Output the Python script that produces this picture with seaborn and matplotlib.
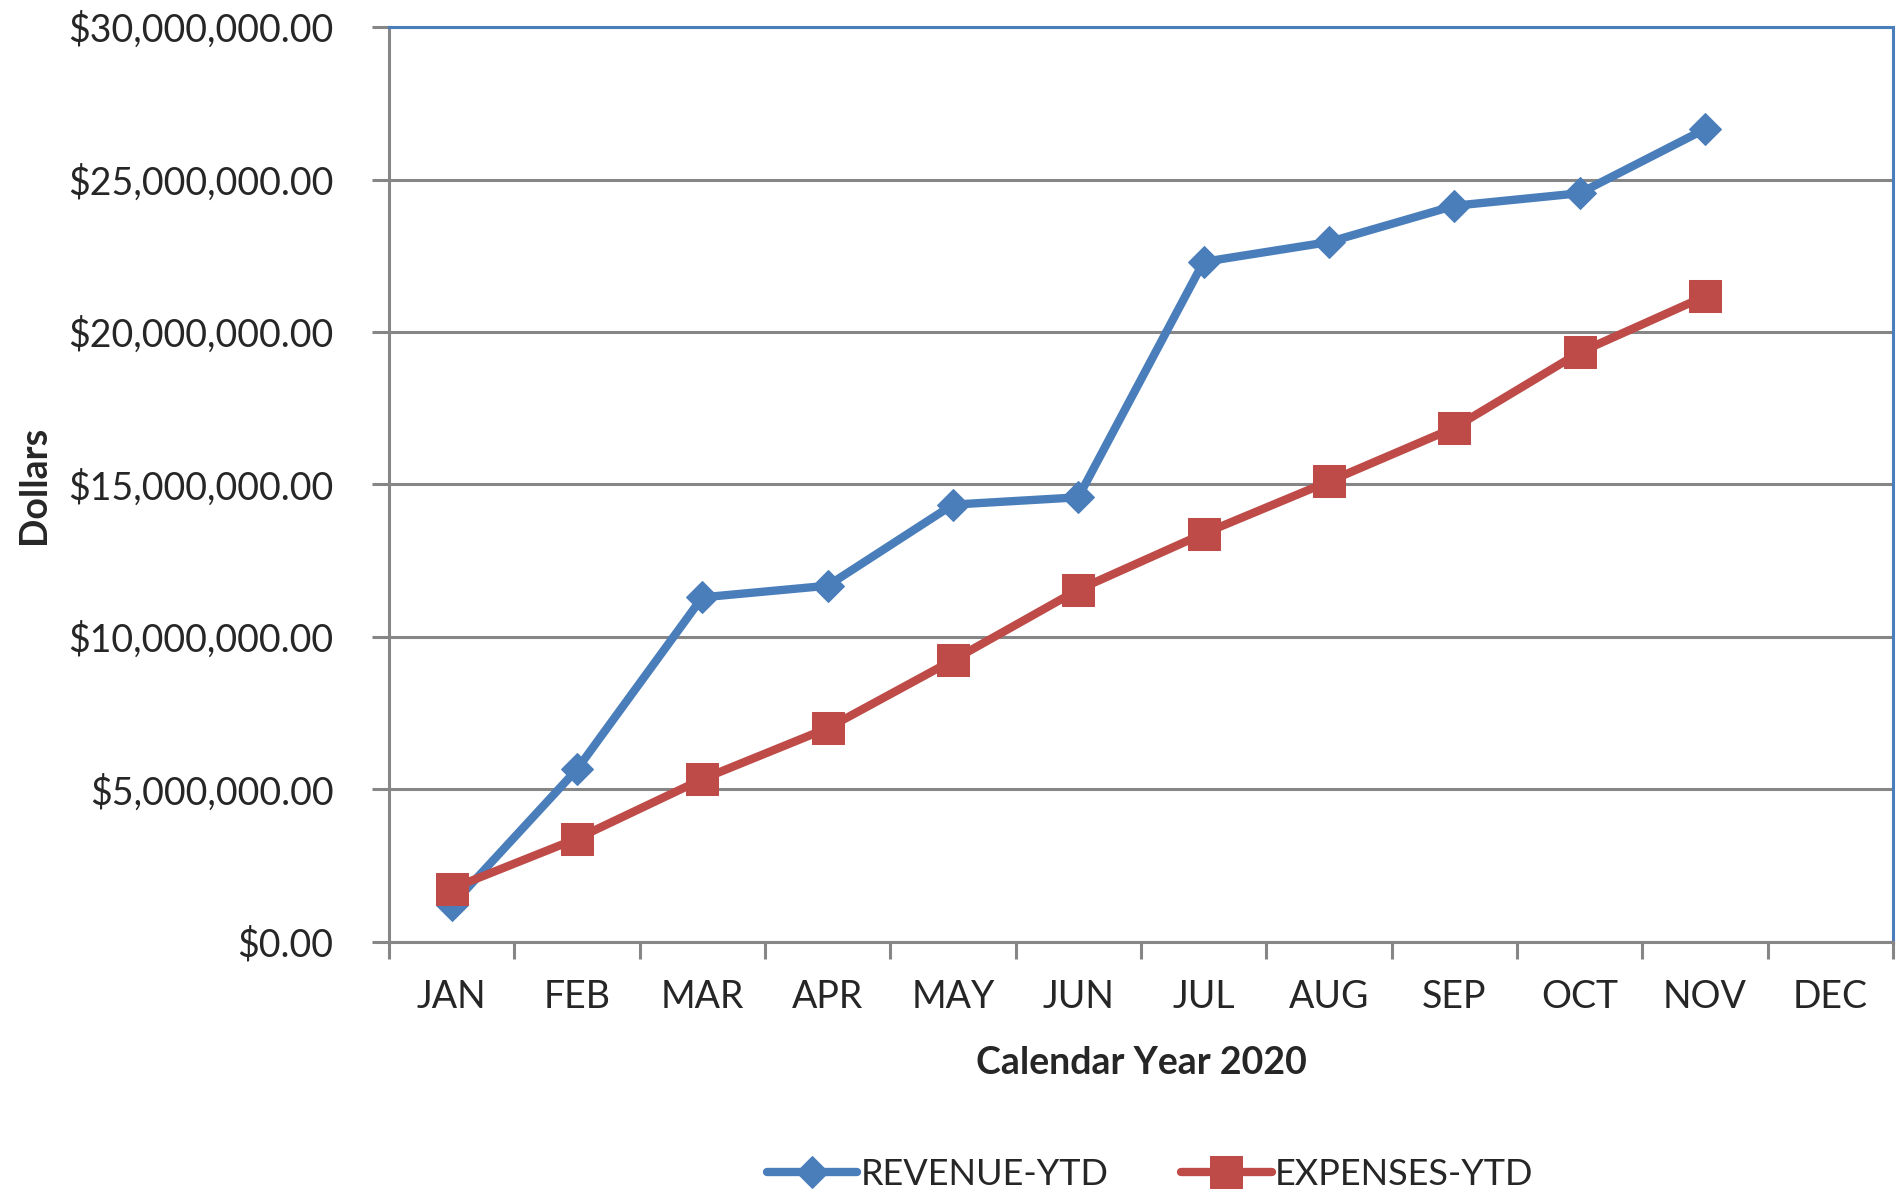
import numpy as np
import pandas as pd
import matplotlib
matplotlib.use("Agg")
import matplotlib.pyplot as plt
from matplotlib.ticker import FuncFormatter, FixedLocator
import seaborn as sns

months = ["JAN", "FEB", "MAR", "APR", "MAY", "JUN",
          "JUL", "AUG", "SEP", "OCT", "NOV", "DEC"]
revenue_ytd = [1.20e6, 5.66e6, 11.30e6, 11.68e6, 14.34e6, 14.58e6,
               22.30e6, 22.95e6, 24.14e6, 24.55e6, 26.65e6, np.nan]
expenses_ytd = [1.75e6, 3.39e6, 5.34e6, 7.01e6, 9.24e6, 11.55e6,
                13.39e6, 15.10e6, 16.86e6, 19.33e6, 21.17e6, np.nan]

BLUE = "#4A7EBB"
RED = "#BE4B48"
GRID = "#868686"

sns.set_theme(style="white")
plt.rcParams["font.family"] = ["Lato", "DejaVu Sans"]

df = pd.DataFrame({"pos": np.arange(len(months)),
                   "REVENUE-YTD": revenue_ytd,
                   "EXPENSES-YTD": expenses_ytd})

fig = plt.figure(figsize=(19.03, 11.96), dpi=100)
ax = fig.add_axes([0.2044, 0.2124, 0.7903, 0.765])

sns.lineplot(data=df, x="pos", y="REVENUE-YTD", ax=ax, color=BLUE, lw=6,
             marker="D", markersize=16, markeredgecolor=BLUE,
             label="REVENUE-YTD", zorder=3)
sns.lineplot(data=df, x="pos", y="EXPENSES-YTD", ax=ax, color=RED, lw=6,
             marker="s", markersize=23, markeredgecolor=RED,
             label="EXPENSES-YTD", zorder=4)

ax.set_xlim(-0.5, len(months) - 0.5)
ax.set_ylim(0, 30e6)
ax.set_yticks(np.arange(0, 30e6 + 1, 5e6))
ax.yaxis.set_major_formatter(FuncFormatter(lambda v, p: f"${v:,.2f}"))
ax.set_xticks(np.arange(len(months)))
ax.set_xticklabels(months)
ax.xaxis.set_minor_locator(FixedLocator(np.arange(-0.5, len(months), 1.0)))

ax.grid(axis="y", color=GRID, lw=2.2)
ax.set_axisbelow(True)
ax.tick_params(axis="x", which="major", length=0, pad=27, labelsize=27)
ax.tick_params(axis="x", which="minor", length=12, width=2.2, color=GRID,
               direction="out", bottom=True)
ax.tick_params(axis="y", length=12, width=2.2, color=GRID, direction="out",
               left=True, pad=28, labelsize=27)

for side in ["left", "bottom"]:
    ax.spines[side].set_color(GRID)
    ax.spines[side].set_linewidth(2.2)
for side in ["top", "right"]:
    ax.spines[side].set_color(BLUE)
    ax.spines[side].set_linewidth(2.2)

ax.set_xlabel("Calendar Year 2020", fontsize=27, fontweight="bold", labelpad=22)
ax.set_ylabel("Dollars", fontsize=27, fontweight="bold", labelpad=12)

ax.legend_.remove()
handles, labels = ax.get_legend_handles_labels()
fig.legend(handles, labels, loc="center", bbox_to_anchor=(0.6045, 0.018),
           ncol=2, frameon=False, fontsize=26, handlelength=2.5,
           handletextpad=0.1, columnspacing=2.0)

fig.savefig("out.png", dpi=100)
